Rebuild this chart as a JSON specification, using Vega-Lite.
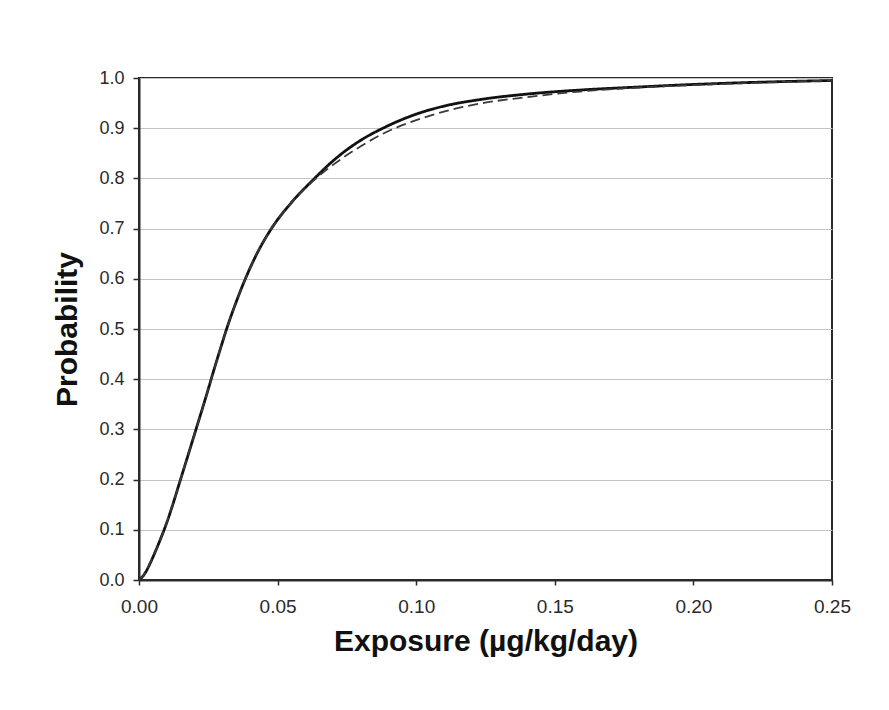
{
  "$schema": "https://vega.github.io/schema/vega-lite/v6.json",
  "width": 693,
  "height": 502,
  "autosize": {"type": "none"},
  "padding": {"left": 139, "top": 78, "right": 57, "bottom": 130},
  "background": "white",
  "config": {
    "font": "Liberation Sans",
    "view": {"stroke": "#2a2a2a", "strokeWidth": 2},
    "axis": {
      "labelFont": "Liberation Sans",
      "titleFont": "Liberation Sans",
      "labelColor": "#2a2a2a",
      "titleColor": "#111",
      "domainColor": "#2a2a2a",
      "tickColor": "#2a2a2a",
      "domainWidth": 2,
      "tickWidth": 1.5,
      "labelFlush": false,
      "labelOverlap": false
    }
  },
  "data": {
    "values": [
      {"exposure": 0.0, "probability": 0.0, "series": "A"},
      {"exposure": 0.002, "probability": 0.012, "series": "A"},
      {"exposure": 0.004, "probability": 0.033, "series": "A"},
      {"exposure": 0.006, "probability": 0.058, "series": "A"},
      {"exposure": 0.008, "probability": 0.085, "series": "A"},
      {"exposure": 0.010, "probability": 0.114, "series": "A"},
      {"exposure": 0.012, "probability": 0.147, "series": "A"},
      {"exposure": 0.0148, "probability": 0.197, "series": "A"},
      {"exposure": 0.018, "probability": 0.254, "series": "A"},
      {"exposure": 0.021, "probability": 0.308, "series": "A"},
      {"exposure": 0.024, "probability": 0.362, "series": "A"},
      {"exposure": 0.027, "probability": 0.418, "series": "A"},
      {"exposure": 0.030, "probability": 0.472, "series": "A"},
      {"exposure": 0.0316, "probability": 0.5, "series": "A"},
      {"exposure": 0.035, "probability": 0.553, "series": "A"},
      {"exposure": 0.0386, "probability": 0.603, "series": "A"},
      {"exposure": 0.043, "probability": 0.655, "series": "A"},
      {"exposure": 0.048, "probability": 0.702, "series": "A"},
      {"exposure": 0.055, "probability": 0.752, "series": "A"},
      {"exposure": 0.0628, "probability": 0.797, "series": "A"},
      {"exposure": 0.070, "probability": 0.835, "series": "A"},
      {"exposure": 0.080, "probability": 0.876, "series": "A"},
      {"exposure": 0.088, "probability": 0.9, "series": "A"},
      {"exposure": 0.100, "probability": 0.928, "series": "A"},
      {"exposure": 0.110, "probability": 0.944, "series": "A"},
      {"exposure": 0.123, "probability": 0.957, "series": "A"},
      {"exposure": 0.140, "probability": 0.968, "series": "A"},
      {"exposure": 0.159, "probability": 0.976, "series": "A"},
      {"exposure": 0.180, "probability": 0.982, "series": "A"},
      {"exposure": 0.195, "probability": 0.986, "series": "A"},
      {"exposure": 0.220, "probability": 0.991, "series": "A"},
      {"exposure": 0.250, "probability": 0.995, "series": "A"},
      {"exposure": 0.0, "probability": 0.0, "series": "B"},
      {"exposure": 0.002, "probability": 0.012, "series": "B"},
      {"exposure": 0.004, "probability": 0.033, "series": "B"},
      {"exposure": 0.006, "probability": 0.058, "series": "B"},
      {"exposure": 0.008, "probability": 0.085, "series": "B"},
      {"exposure": 0.010, "probability": 0.114, "series": "B"},
      {"exposure": 0.012, "probability": 0.147, "series": "B"},
      {"exposure": 0.0148, "probability": 0.197, "series": "B"},
      {"exposure": 0.018, "probability": 0.254, "series": "B"},
      {"exposure": 0.021, "probability": 0.308, "series": "B"},
      {"exposure": 0.024, "probability": 0.362, "series": "B"},
      {"exposure": 0.027, "probability": 0.418, "series": "B"},
      {"exposure": 0.030, "probability": 0.472, "series": "B"},
      {"exposure": 0.0316, "probability": 0.5, "series": "B"},
      {"exposure": 0.035, "probability": 0.553, "series": "B"},
      {"exposure": 0.0386, "probability": 0.603, "series": "B"},
      {"exposure": 0.043, "probability": 0.655, "series": "B"},
      {"exposure": 0.048, "probability": 0.702, "series": "B"},
      {"exposure": 0.055, "probability": 0.752, "series": "B"},
      {"exposure": 0.0628, "probability": 0.795, "series": "B"},
      {"exposure": 0.070, "probability": 0.827, "series": "B"},
      {"exposure": 0.080, "probability": 0.864, "series": "B"},
      {"exposure": 0.088, "probability": 0.889, "series": "B"},
      {"exposure": 0.100, "probability": 0.916, "series": "B"},
      {"exposure": 0.110, "probability": 0.933, "series": "B"},
      {"exposure": 0.123, "probability": 0.949, "series": "B"},
      {"exposure": 0.140, "probability": 0.962, "series": "B"},
      {"exposure": 0.159, "probability": 0.973, "series": "B"},
      {"exposure": 0.180, "probability": 0.981, "series": "B"},
      {"exposure": 0.200, "probability": 0.986, "series": "B"},
      {"exposure": 0.220, "probability": 0.990, "series": "B"},
      {"exposure": 0.250, "probability": 0.995, "series": "B"}
    ]
  },
  "mark": {"type": "line", "interpolate": "monotone"},
  "encoding": {
    "x": {
      "field": "exposure",
      "type": "quantitative",
      "scale": {"domain": [0, 0.25], "nice": false, "zero": false},
      "axis": {
        "title": "Exposure (µg/kg/day)",
        "values": [0, 0.05, 0.1, 0.15, 0.2, 0.25],
        "format": ".2f",
        "grid": false,
        "tickSize": 5,
        "labelFontSize": 19,
        "labelPadding": 12,
        "titleFontSize": 30,
        "titleFontWeight": "bold",
        "titlePadding": 10
      }
    },
    "y": {
      "field": "probability",
      "type": "quantitative",
      "scale": {"domain": [0, 1], "nice": false},
      "axis": {
        "title": "Probability",
        "values": [0, 0.1, 0.2, 0.3, 0.4, 0.5, 0.6, 0.7, 0.8, 0.9, 1.0],
        "format": ".1f",
        "grid": true,
        "gridColor": "#c4c4c4",
        "gridWidth": 1,
        "tickSize": 6,
        "labelFontSize": 18,
        "labelPadding": 9,
        "titleFontSize": 30,
        "titleFontWeight": "bold",
        "titlePadding": 16
      }
    },
    "color": {
      "field": "series",
      "type": "nominal",
      "scale": {"domain": ["A", "B"], "range": ["#111111", "#3a3a3a"]},
      "legend": null
    },
    "strokeDash": {
      "field": "series",
      "type": "nominal",
      "scale": {"domain": ["A", "B"], "range": [[1, 0], [10, 5]]},
      "legend": null
    },
    "strokeWidth": {
      "field": "series",
      "type": "nominal",
      "scale": {"domain": ["A", "B"], "range": [2.8, 1.8]},
      "legend": null
    }
  }
}
